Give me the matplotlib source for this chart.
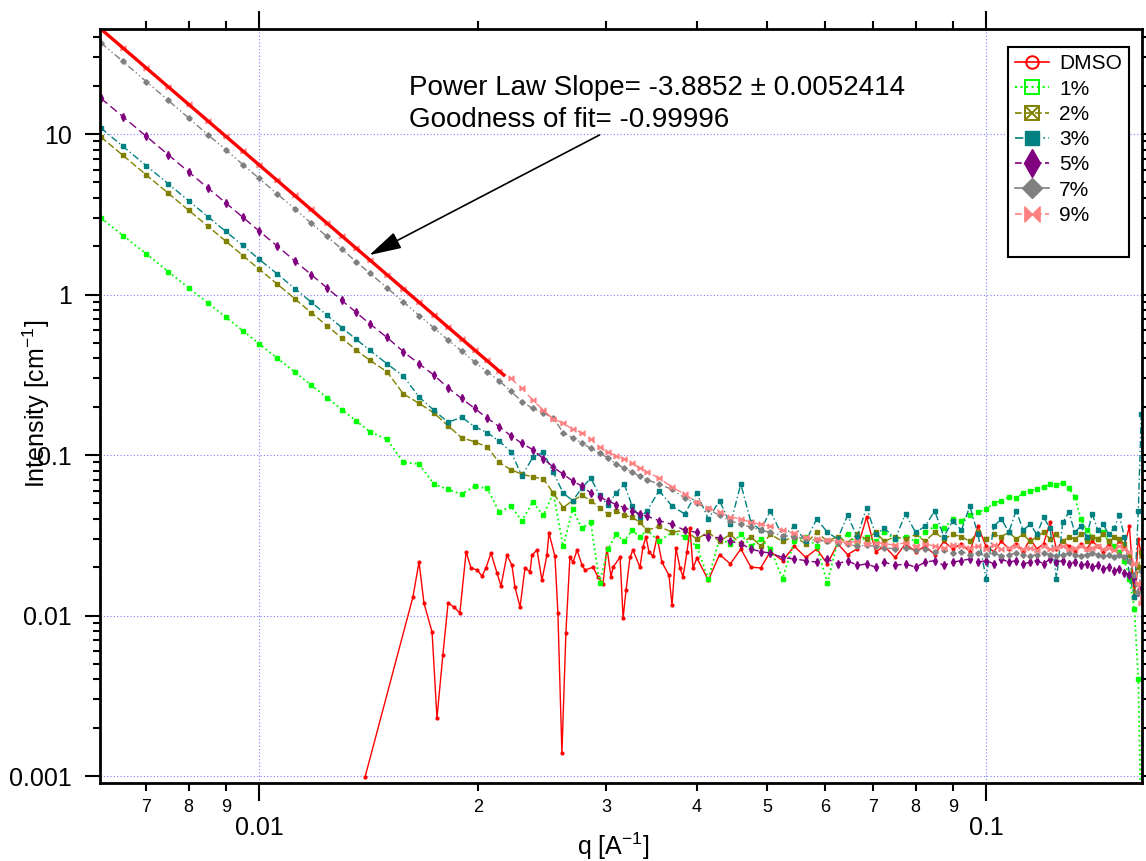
import numpy as np
import matplotlib
matplotlib.use('Agg')
import matplotlib.pyplot as plt
from matplotlib.lines import Line2D
from matplotlib.ticker import FixedLocator, FixedFormatter, LogLocator, NullFormatter

plt.rcParams['font.family'] = ['Liberation Sans', 'DejaVu Sans']
plt.rcParams['mathtext.fontset'] = 'custom'
plt.rcParams['mathtext.rm'] = 'Liberation Sans'
plt.rcParams['mathtext.it'] = 'Liberation Sans:italic'
plt.rcParams['mathtext.bf'] = 'Liberation Sans:bold'

# shared q grid for the 1% ... 9% samples
q = [0.00606, 0.0065, 0.0070, 0.0075, 0.0080, 0.0085, 0.0090, 0.0095, 0.0100, 0.0106,
     0.0112, 0.0118, 0.0124, 0.0130, 0.0136, 0.0142, 0.0150, 0.0158, 0.0166, 0.0174,
     0.0182, 0.0190, 0.0198, 0.0206, 0.0214, 0.0222, 0.0230, 0.0238, 0.0246, 0.0254,
     0.0262, 0.0270, 0.0278, 0.0286, 0.0294, 0.0302, 0.0310, 0.0318, 0.0326, 0.0334,
     0.0342, 0.0355, 0.0370, 0.0385, 0.0400, 0.0415, 0.0430, 0.0445, 0.0460, 0.0475,
     0.0490, 0.0505, 0.0525, 0.0545, 0.0565, 0.0585, 0.0605, 0.0625, 0.0645, 0.0665,
     0.0685, 0.0705, 0.0725, 0.0750, 0.0775, 0.0800, 0.0825, 0.0850, 0.0875, 0.0900,
     0.0925, 0.0950, 0.0975, 0.1000, 0.1025, 0.1050, 0.1075, 0.1100, 0.1125, 0.1150,
     0.1175, 0.1200, 0.1225, 0.1250, 0.1275, 0.1300, 0.1325, 0.1350, 0.1375, 0.1400,
     0.1425, 0.1450, 0.1475, 0.1500, 0.1525, 0.1550, 0.1575, 0.1600, 0.1620, 0.1635]

I_1 = [3.0, 2.33, 1.79, 1.39, 1.10, 0.888, 0.723, 0.595, 0.494, 0.40,
       0.329, 0.272, 0.228, 0.192, 0.163, 0.14, 0.125, 0.090, 0.088, 0.066,
       0.061, 0.057, 0.064, 0.062, 0.044, 0.048, 0.039, 0.051, 0.042, 0.058,
       0.027, 0.046, 0.035, 0.038, 0.016, 0.026, 0.032, 0.029, 0.034, 0.031,
       0.034, 0.029, 0.033, 0.031, 0.027, 0.017, 0.030, 0.028, 0.032, 0.027,
       0.030, 0.026, 0.017, 0.029, 0.031, 0.027, 0.016, 0.029, 0.032, 0.028,
       0.031, 0.029, 0.033, 0.030, 0.031, 0.029, 0.033, 0.036, 0.035, 0.040,
       0.039, 0.042, 0.044, 0.046, 0.050, 0.052, 0.055, 0.054, 0.058, 0.060,
       0.061, 0.063, 0.066, 0.065, 0.067, 0.062, 0.055, 0.040, 0.034, 0.031,
       0.030, 0.033, 0.029, 0.027, 0.025, 0.022, 0.017, 0.011, 0.004, 0.0004]

I_2 = [9.58, 7.35, 5.55, 4.28, 3.35, 2.67, 2.15, 1.75, 1.44, 1.16,
       0.94, 0.771, 0.639, 0.535, 0.451, 0.39, 0.33, 0.24, 0.21, 0.183,
       0.152, 0.128, 0.121, 0.112, 0.09, 0.081, 0.076, 0.073, 0.071, 0.058,
       0.047, 0.052, 0.056, 0.052, 0.047, 0.043, 0.045, 0.042, 0.041, 0.038,
       0.034, 0.036, 0.033, 0.034, 0.030, 0.033, 0.029, 0.032, 0.028, 0.031,
       0.027, 0.032, 0.029, 0.031, 0.028, 0.033, 0.029, 0.031, 0.0285, 0.032,
       0.030, 0.033, 0.029, 0.031, 0.030, 0.032, 0.029, 0.033, 0.030, 0.032,
       0.031, 0.029, 0.033, 0.030, 0.032, 0.031, 0.033, 0.030, 0.032, 0.029,
       0.031, 0.033, 0.030, 0.032, 0.029, 0.031, 0.030, 0.032, 0.029, 0.031,
       0.030, 0.032, 0.029, 0.031, 0.030, 0.028, 0.024, 0.013, 0.020, 0.025]

I_3 = [10.9, 8.37, 6.34, 4.90, 3.84, 3.06, 2.47, 2.02, 1.66, 1.34,
       1.09, 0.895, 0.743, 0.622, 0.526, 0.45, 0.37, 0.31, 0.23, 0.19,
       0.16, 0.172, 0.15, 0.138, 0.122, 0.105, 0.074, 0.097, 0.104, 0.078,
       0.058, 0.052, 0.062, 0.072, 0.056, 0.049, 0.058, 0.066, 0.048, 0.041,
       0.045, 0.060, 0.048, 0.043, 0.058, 0.040, 0.052, 0.037, 0.066, 0.038,
       0.034, 0.045, 0.031, 0.036, 0.029, 0.040, 0.033, 0.030, 0.042, 0.031,
       0.047, 0.032, 0.035, 0.030, 0.043, 0.033, 0.036, 0.045, 0.031, 0.039,
       0.034, 0.048, 0.032, 0.017, 0.036, 0.040, 0.033, 0.045, 0.034, 0.037,
       0.032, 0.041, 0.035, 0.017, 0.038, 0.044, 0.033, 0.036, 0.031, 0.043,
       0.034, 0.037, 0.032, 0.035, 0.042, 0.031, 0.018, 0.013, 0.045, 0.18]

I_5 = [16.7, 12.8, 9.66, 7.43, 5.81, 4.62, 3.72, 3.03, 2.49, 2.00,
       1.62, 1.33, 1.10, 0.919, 0.774, 0.657, 0.54, 0.44, 0.37, 0.315,
       0.262, 0.225, 0.195, 0.17, 0.150, 0.132, 0.118, 0.108, 0.095, 0.084,
       0.076, 0.069, 0.064, 0.058, 0.0545, 0.052, 0.049, 0.047, 0.045, 0.043,
       0.0415, 0.039, 0.037, 0.034, 0.033, 0.031, 0.0305, 0.029, 0.028, 0.026,
       0.025, 0.0245, 0.023, 0.0225, 0.022, 0.0215, 0.0225, 0.021, 0.022, 0.0205,
       0.021, 0.020, 0.0215, 0.0205, 0.021, 0.020, 0.0215, 0.022, 0.0205, 0.0215,
       0.022, 0.0225, 0.0215, 0.022, 0.021, 0.0225, 0.0215, 0.022, 0.021, 0.0215,
       0.022, 0.021, 0.0225, 0.0215, 0.022, 0.021, 0.0215, 0.0205, 0.021, 0.020,
       0.0205, 0.0195, 0.020, 0.019, 0.0195, 0.0185, 0.018, 0.017, 0.014, 0.015]

I_7 = [37.0, 28.3, 21.2, 16.2, 12.6, 9.9, 8.0, 6.45, 5.30, 4.22,
       3.42, 2.78, 2.30, 1.92, 1.60, 1.36, 1.10, 0.90, 0.74, 0.62,
       0.52, 0.445, 0.38, 0.33, 0.29, 0.25, 0.215, 0.195, 0.183, 0.17,
       0.138, 0.128, 0.119, 0.110, 0.103, 0.096, 0.088, 0.083, 0.078, 0.074,
       0.070, 0.066, 0.061, 0.054, 0.050, 0.046, 0.042, 0.039, 0.037, 0.0355,
       0.034, 0.033, 0.0315, 0.031, 0.030, 0.0295, 0.029, 0.0285, 0.028, 0.027,
       0.0275, 0.027, 0.0265, 0.026, 0.0265, 0.0255, 0.026, 0.025, 0.0255, 0.0245,
       0.025, 0.024, 0.0245, 0.024, 0.0245, 0.0235, 0.024, 0.0245, 0.024, 0.0235,
       0.024, 0.0245, 0.024, 0.0235, 0.024, 0.0245, 0.024, 0.0235, 0.024, 0.0245,
       0.024, 0.0235, 0.024, 0.023, 0.024, 0.023, 0.022, 0.018, 0.014, 0.019]

I_9 = [45.1, 34.4, 25.8, 19.7, 15.3, 12.1, 9.70, 7.86, 6.44, 5.14,
       4.15, 3.39, 2.79, 2.33, 1.95, 1.65, 1.33, 1.09, 0.899, 0.749,
       0.629, 0.532, 0.453, 0.389, 0.335, 0.30, 0.26, 0.22, 0.19, 0.168,
       0.158, 0.145, 0.138, 0.125, 0.112, 0.104, 0.099, 0.095, 0.089, 0.083,
       0.078, 0.072, 0.063, 0.057, 0.051, 0.047, 0.044, 0.041, 0.040, 0.038,
       0.037, 0.036, 0.034, 0.0325, 0.031, 0.030, 0.0295, 0.029, 0.0285, 0.029,
       0.028, 0.0285, 0.028, 0.0275, 0.0285, 0.027, 0.028, 0.027, 0.0265, 0.0275,
       0.027, 0.0265, 0.027, 0.026, 0.0275, 0.026, 0.0265, 0.027, 0.026, 0.0265,
       0.0255, 0.027, 0.026, 0.0265, 0.027, 0.026, 0.0265, 0.027, 0.026, 0.0265,
       0.027, 0.026, 0.0265, 0.0255, 0.027, 0.026, 0.025, 0.021, 0.016, 0.012]

# DMSO has its own (denser) points, nothing below q = 0.014
q_dmso = [0.01399, 0.01628, 0.01660, 0.01686, 0.01730, 0.01757, 0.01790, 0.01820, 0.01854, 0.01889,
          0.01927, 0.01957, 0.01995, 0.02027, 0.02052, 0.02085, 0.02125, 0.02152, 0.02193, 0.02228,
          0.02249, 0.02286, 0.02322, 0.02359, 0.02374, 0.02412, 0.02450, 0.02489, 0.02505, 0.02553,
          0.02577, 0.02610, 0.02643, 0.02677, 0.02704, 0.02738, 0.02782, 0.02808, 0.02880, 0.02926,
          0.02972, 0.03010, 0.03049, 0.03069, 0.03138, 0.03168, 0.03198, 0.03238, 0.03269, 0.03342,
          0.03374, 0.03406, 0.03439, 0.03483, 0.03527, 0.03583, 0.03664, 0.03699, 0.03746, 0.03794,
          0.03830, 0.03879, 0.03916, 0.03953, 0.04004, 0.0415, 0.0430, 0.0445, 0.0460, 0.0475,
          0.0490, 0.0505, 0.0525, 0.0545, 0.0565, 0.0585, 0.0605, 0.0625, 0.0645, 0.0665,
          0.0685, 0.0705, 0.0725, 0.0750, 0.0775, 0.0800, 0.0825, 0.0850, 0.0875, 0.0900,
          0.0925, 0.0950, 0.0975, 0.1000, 0.1025, 0.1050, 0.1075, 0.1100, 0.1125, 0.1150,
          0.1175, 0.1200, 0.1225, 0.1250, 0.1275, 0.1300, 0.1325, 0.1350, 0.1375, 0.1400,
          0.1425, 0.1450, 0.1475, 0.1500, 0.1525, 0.1550, 0.1575, 0.1600, 0.1620, 0.1635]

I_dmso = [0.000986, 0.01303, 0.02154, 0.01197, 0.00789, 0.0023, 0.00567, 0.01197, 0.0113, 0.01037,
          0.0249, 0.0198, 0.0192, 0.0176, 0.0198, 0.0245, 0.0184, 0.0153, 0.0238, 0.0206,
          0.0151, 0.0113, 0.0198, 0.0187, 0.0238, 0.0256, 0.0166, 0.0238, 0.0327, 0.0234,
          0.01037, 0.00139, 0.00778, 0.0231, 0.0215, 0.0256, 0.0206, 0.0192, 0.0200, 0.0174,
          0.0157, 0.0264, 0.0174, 0.0200, 0.0231, 0.00965, 0.0144, 0.0231, 0.0256, 0.0200,
          0.0268, 0.0308, 0.0249, 0.0234, 0.0308, 0.0215, 0.0178, 0.0116, 0.0262, 0.0198,
          0.0174, 0.0249, 0.0351, 0.0198, 0.0228, 0.0166, 0.024, 0.021, 0.026, 0.020,
          0.0198, 0.025, 0.022, 0.027, 0.023, 0.026, 0.021, 0.028, 0.024, 0.026,
          0.041, 0.025, 0.027, 0.023, 0.028, 0.025, 0.027, 0.024, 0.029, 0.026,
          0.028, 0.025, 0.036, 0.027, 0.025, 0.029, 0.026, 0.028, 0.025, 0.030,
          0.026, 0.028, 0.038, 0.026, 0.029, 0.027, 0.025, 0.028, 0.026, 0.029,
          0.027, 0.025, 0.028, 0.026, 0.029, 0.027, 0.036, 0.013, 0.030, 0.024]

# power law fit end points
fit_q = [0.00606, 0.0218]
fit_I = [45.1, 0.31]

labels = ['DMSO', '1%', '2%', '3%', '5%', '7%', '9%']

x_minor = [0.007, 0.008, 0.009, 0.02, 0.03, 0.04, 0.05, 0.06, 0.07, 0.08, 0.09]
x_minor_labels = ['7', '8', '9', '2', '3', '4', '5', '6', '7', '8', '9']
y_major = [0.001, 0.01, 0.1, 1, 10]
y_major_labels = ['0.001', '0.01', '0.1', '1', '10']

bowtie = [(-1, -1), (-1, 1), (0, 0), (1, 1), (1, -1), (0, 0), (-1, -1)]

fig = plt.figure(figsize=(11.46, 8.61), dpi=100)
ax = fig.add_axes([100 / 1146, 78 / 861, 1042 / 1146, 754 / 861])

lw = 1.0
ax.plot(q_dmso, I_dmso, color='#ff0000', ls='-', lw=lw, marker='o', ms=2)
ax.plot(q, I_1, color='#00ff00', ls=':', lw=1.3, marker='s', ms=2.8)
ax.plot(q, I_2, color='#808000', ls=(0, (5, 2)), lw=lw, marker='s', ms=2.8)
ax.plot(q, I_3, color='#008080', ls=(0, (5, 2, 1, 2)), lw=lw, marker='s', ms=2.8)
ax.plot(q, I_5, color='#800080', ls=(0, (6, 3)), lw=lw, marker='d', ms=4)
ax.plot(q, I_7, color='#808080', ls=(0, (5, 2, 1, 2, 1, 2)), lw=lw, marker='D', ms=2.8)
ax.plot(q, I_9, color='#ff8080', ls=(0, (6, 3)), lw=lw, marker=bowtie, ms=3.5)
ax.plot(fit_q, fit_I, color='#ff0000', lw=2.4, solid_capstyle='butt')

ax.set_xscale('log')
ax.set_yscale('log')
ax.set_xlim(0.006043, 0.1639)
ax.set_ylim(0.000905, 45.1)

ax.xaxis.set_major_locator(FixedLocator([0.01, 0.1]))
ax.xaxis.set_major_formatter(FixedFormatter(['0.01', '0.1']))
ax.xaxis.set_minor_locator(FixedLocator(x_minor))
ax.xaxis.set_minor_formatter(FixedFormatter(x_minor_labels))
ax.yaxis.set_major_locator(FixedLocator(y_major))
ax.yaxis.set_major_formatter(FixedFormatter(y_major_labels))
ax.yaxis.set_minor_locator(LogLocator(base=10, subs=np.arange(2, 10)))
ax.yaxis.set_minor_formatter(NullFormatter())

ax.tick_params(axis='x', which='major', direction='out', length=13, width=1.5,
               pad=11, labelsize=18, top=True, labeltop=False)
ax.tick_params(axis='x', which='minor', direction='out', length=6, width=1.5,
               pad=5.5, labelsize=13, top=True, labeltop=False)
ax.tick_params(axis='y', which='major', direction='out', length=11, width=1.5,
               pad=9, labelsize=18, right=True, labelright=False)
ax.tick_params(axis='y', which='minor', direction='out', length=5, width=1.5, right=True)
for s in ax.spines.values():
    s.set_linewidth(2.0)

ax.grid(True, which='major', color='#8080ff', ls=(0, (1, 2)), lw=0.8)
ax.set_axisbelow(True)

ax.set_xlabel('q [A$^{-1}$]', fontsize=18)
ax.xaxis.set_label_coords(0.493, -0.0637)
ax.set_ylabel('Intensity [cm$^{-1}$]', fontsize=18)
ax.yaxis.set_label_coords(-0.046, 0.503)

# fit result text and arrow
fig.text(409 / 1146, 1 - 95 / 861, 'Power Law Slope= -3.8852 \u00b1 0.0052414',
         fontsize=20, va='baseline')
fig.text(409 / 1146, 1 - 127 / 861, 'Goodness of fit= -0.99996', fontsize=20, va='baseline')
ax.annotate('', xy=(0.01418, 1.76), xytext=(0.0294, 9.86),
            arrowprops=dict(arrowstyle='-|>,head_length=1.0,head_width=0.27',
                            mutation_scale=20, lw=1.2, color='black',
                            shrinkA=0, shrinkB=0))

# legend with the big Igor style markers
handles = [
    Line2D([], [], color='#ff0000', ls='-', lw=1.2, marker='o', ms=9, mfc='none', mew=1.4),
    Line2D([], [], color='#00ff00', ls=':', lw=1.5, marker='s', ms=10, mfc='none', mew=1.4),
    (Line2D([], [], color='#808000', ls=(0, (4, 2)), lw=1.2, marker='s', ms=10, mfc='none', mew=1.4),
     Line2D([], [], color='#808000', ls='none', marker='x', ms=9, mew=1.4)),
    Line2D([], [], color='#008080', ls=(0, (5, 2, 1, 2)), lw=1.2, marker='s', ms=10),
    Line2D([], [], color='#800080', ls=(0, (4, 2)), lw=1.2, marker='d', ms=14),
    Line2D([], [], color='#808080', ls='-', lw=1.2, marker='D', ms=10),
    Line2D([], [], color='#ff8080', ls=(0, (4, 2)), lw=1.2, marker=bowtie, ms=11),
    Line2D([], [], ls='none'),
]
leg = ax.legend(handles, labels + [' '], loc='upper left', bbox_to_anchor=(0.8714, 0.9761),
                borderaxespad=0, frameon=True, fancybox=False, edgecolor='black',
                framealpha=1, fontsize=15, handlelength=1.6, handletextpad=0.5,
                labelspacing=0.3, borderpad=0.35, numpoints=1)
leg.get_frame().set_linewidth(1.5)

fig.savefig('out.png', dpi=100)
